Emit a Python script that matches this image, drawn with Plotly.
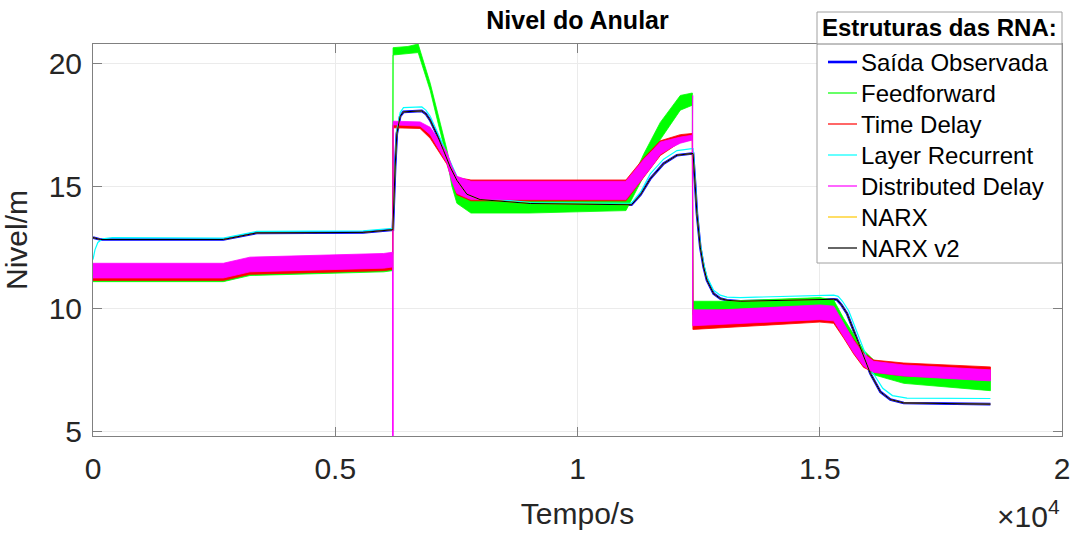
import plotly.graph_objects as go

# ---------------------------------------------------------------- data
# Smooth responses: observed output (also followed by both NARX nets)
t_obs = [0, 150, 2690, 3000, 3380, 5576, 6168, 6189, 6236, 6271, 6340, 6408,
         6787, 6870, 6960, 7100, 7234, 7372, 7510, 7717, 7991, 9024, 11021,
         11114, 11300, 11502, 11777, 12053, 12363, 12385, 12431, 12465, 12534,
         12603, 12672, 12809, 12947, 13086, 13360, 14600, 15288, 15357, 15450,
         15563, 15839, 16045, 16252, 16458, 16733, 18523]
saida_observada = [12.90, 12.82, 12.82, 12.95, 13.09, 13.11, 13.20, 13.22, 15.78,
                   17.14, 17.85, 18.03, 18.07, 17.95, 17.69, 17.10, 16.46, 15.78,
                   15.24, 14.67, 14.45, 14.29, 14.24, 14.24, 14.65, 15.30, 15.92,
                   16.26, 16.33, 16.33, 15.00, 13.88, 12.51, 11.70, 11.16, 10.61,
                   10.41, 10.34, 10.30, 10.37, 10.38, 10.36, 10.15, 9.80, 8.43,
                   7.35, 6.60, 6.29, 6.15, 6.10]
narx = saida_observada
narx_v2 = saida_observada

# Layer Recurrent network output
t_lr = [0, 40, 100, 200, 400, 2690, 3000, 3380, 5576, 6168, 6189, 6236, 6271,
        6340, 6408, 6787, 6870, 6960, 7100, 7234, 7372, 7510, 7717, 7991, 9024,
        11021, 11114, 11300, 11502, 11777, 12053, 12363, 12385, 12431, 12465,
        12534, 12603, 12672, 12809, 12947, 13086, 13360, 14600, 15288, 15380,
        15470, 15600, 15880, 16090, 16300, 16500, 16800, 18523]
layer_recurrent = [12.00, 12.40, 12.70, 12.85, 12.90, 12.88, 13.00, 13.15, 13.17,
                   13.26, 13.28, 15.90, 17.30, 18.00, 18.20, 18.23, 18.10, 17.85,
                   17.25, 16.65, 16.00, 15.40, 14.80, 14.52, 14.33, 14.28, 14.30,
                   14.75, 15.50, 16.10, 16.45, 16.53, 16.53, 15.20, 14.00, 12.65,
                   11.85, 11.30, 10.75, 10.55, 10.47, 10.45, 10.52, 10.55, 10.50,
                   10.30, 9.90, 8.50, 7.40, 6.75, 6.45, 6.35, 6.33]

# Noisy network outputs, given as lower / upper envelopes of the noise
t_ff = [0, 2690, 3240, 6000, 6185, 6193, 6500, 6711, 6960, 7125, 7303, 7407,
        7510, 7800, 9000, 11000, 11365, 11709, 12122, 12370, 12382, 13000,
        15000, 15288, 15494, 15700, 15906, 16113, 16733, 18523]
feedforward_lo = [11.10, 11.10, 11.35, 11.50, 11.55, 20.35, 20.40, 20.45, 18.90,
                  17.55, 16.15, 15.00, 14.30, 13.90, 13.90, 14.00, 15.40, 16.90,
                  18.10, 18.30, 9.75, 9.80, 9.95, 9.85, 9.00, 8.40, 7.80, 7.30,
                  6.95, 6.65]
feedforward_hi = [11.75, 11.75, 12.00, 12.15, 12.20, 20.65, 20.70, 20.80, 19.20,
                  17.85, 16.50, 15.50, 14.90, 14.60, 14.65, 14.70, 16.30, 17.60,
                  18.70, 18.80, 10.30, 10.30, 10.45, 10.35, 9.60, 8.95, 8.30,
                  7.90, 7.50, 7.15]

t_td = [0, 2690, 3240, 6000, 6185, 6193, 6750, 6960, 7303, 7510, 7800, 11000,
        11370, 11709, 12122, 12370, 12382, 13000, 15000, 15288, 15494, 15700,
        15906, 16113, 16733, 18523]
time_delay_lo = [11.15, 11.15, 11.40, 11.55, 11.60, 17.38, 17.35, 16.95, 15.90,
                 14.65, 14.40, 14.40, 15.35, 16.25, 16.80, 16.90, 9.15, 9.20,
                 9.45, 9.40, 8.80, 8.15, 7.60, 7.40, 7.25, 7.10]
time_delay_hi = [11.80, 11.80, 12.05, 12.20, 12.25, 17.50, 17.48, 17.25, 16.30,
                 15.35, 15.25, 15.25, 16.15, 16.85, 17.10, 17.15, 9.90, 9.95,
                 10.10, 10.05, 9.35, 8.75, 8.20, 7.90, 7.78, 7.62]

t_dd = [0, 2690, 3240, 6000, 6185, 6189, 6193, 6750, 6960, 7303, 7407, 7510,
        7800, 11000, 11370, 11570, 11709, 11915, 12122, 12370, 12378, 12382,
        13000, 15000, 15288, 15494, 15700, 15906, 16113, 16733, 18523]
distributed_delay_lo = [11.25, 11.25, 11.50, 11.65, 11.70, 4.00, 17.50, 17.45,
                        17.10, 15.95, 15.20, 14.70, 14.45, 14.45, 15.40, 15.90,
                        16.30, 16.55, 16.75, 16.88, 9.30, 9.30, 9.35, 9.55, 9.50,
                        8.85, 8.20, 7.65, 7.40, 7.25, 7.05]
distributed_delay_hi = [11.85, 11.85, 12.10, 12.25, 12.30, 4.00, 17.65, 17.62,
                        17.40, 16.40, 15.80, 15.40, 15.20, 15.20, 16.10, 16.50,
                        16.80, 16.90, 17.00, 17.08, 18.70, 9.95, 9.95, 10.15,
                        10.10, 9.40, 8.70, 8.15, 7.85, 7.70, 7.50]

# axis ticks
x_tickvals = [0, 5000, 10000, 15000, 20000]
x_ticktext = ["0", "0.5", "1", "1.5", "2"]
y_tickvals = [5, 10, 15, 20]

names = ["Saída Observada", "Feedforward", "Time Delay", "Layer Recurrent",
         "Distributed Delay", "NARX", "NARX v2"]
colors = ["#0000FF", "#00FF00", "#FF0000", "#00FFFF", "#FF00FF", "#FFC800",
          "#000000"]
widths = [2.6, 1.2, 1.2, 1.2, 1.2, 1.2, 1.2]

# ---------------------------------------------------------------- figure
W, H = 1070, 537
L, R, T, B = 93, 1062, 44, 436   # plot area in pixels


def px_x(px):
    return (px - L) / (R - L)


def px_y(py):
    return (B - py) / (B - T)


def band(t, lo, hi, name, color):
    return go.Scatter(x=list(t) + list(t)[::-1], y=list(hi) + list(lo)[::-1],
                      mode="lines", fill="toself", fillcolor=color,
                      line=dict(color=color, width=0.8), name=name,
                      showlegend=False, hoverinfo="skip")


fig = go.Figure()
fig.add_trace(go.Scatter(x=t_obs, y=saida_observada, mode="lines", name=names[0],
                         line=dict(color=colors[0], width=2.6), showlegend=False))
fig.add_trace(band(t_ff, feedforward_lo, feedforward_hi, names[1], colors[1]))
fig.add_trace(band(t_td, time_delay_lo, time_delay_hi, names[2], colors[2]))
fig.add_trace(go.Scatter(x=t_lr, y=layer_recurrent, mode="lines", name=names[3],
                         line=dict(color=colors[3], width=1.2), showlegend=False))
fig.add_trace(band(t_dd, distributed_delay_lo, distributed_delay_hi, names[4],
                   colors[4]))
fig.add_trace(go.Scatter(x=t_obs, y=narx, mode="lines", name=names[5],
                         line=dict(color=colors[5], width=1), showlegend=False))
fig.add_trace(go.Scatter(x=t_obs, y=narx_v2, mode="lines", name=names[6],
                         line=dict(color=colors[6], width=1), showlegend=False))

FONT = "Liberation Sans, Arial, sans-serif"
axis_common = dict(showline=True, linecolor="#808080", linewidth=1, mirror="allticks",
                   ticks="inside", ticklen=9, tickcolor="#808080", showgrid=True,
                   gridcolor="#ebebeb", gridwidth=1, zeroline=False,
                   ticklabeloverflow="allow", automargin=False,
                   tickfont=dict(family=FONT, size=30, color="#262626"))

fig.update_layout(
    width=W, height=H,
    margin=dict(l=L, r=W - R, t=T, b=H - B, autoexpand=False),
    paper_bgcolor="white", plot_bgcolor="white",
    showlegend=False,
    title=dict(text="<b>Nivel do Anular</b>", x=0.5, xref="paper", xanchor="center",
               y=1 - 20 / H, yanchor="middle",
               font=dict(family=FONT, size=25, color="#000000")),
    xaxis=dict(range=[0, 20000], tickvals=x_tickvals, ticktext=x_ticktext,
               ticklabelstandoff=6,
               title=dict(text="Tempo/s", standoff=18,
                          font=dict(family=FONT, size=30, color="#262626")),
               **axis_common),
    yaxis=dict(range=[4.8, 20.8], tickvals=y_tickvals, ticklabelstandoff=4,
               title=dict(text="Nivel/m", standoff=16,
                          font=dict(family=FONT, size=30, color="#262626")),
               **axis_common),
)

# x-axis exponent
fig.add_annotation(text="×10<sup>4</sup>", xref="paper", yref="paper",
                   x=px_x(1062), y=px_y(514), xanchor="right", yanchor="middle",
                   showarrow=False, font=dict(family=FONT, size=30, color="#262626"))

# legend box drawn on top of the data
LX0, LX1, LY0, LY1 = 817, 1062, 12, 263
shapes = [
    dict(type="rect", xref="paper", yref="paper", x0=px_x(LX0), x1=px_x(LX1),
         y0=px_y(LY1), y1=px_y(LY0), fillcolor="white",
         line=dict(color="#a0a0a0", width=1), layer="above"),
    dict(type="line", xref="paper", yref="paper", x0=px_x(LX0), x1=px_x(LX1),
         y0=px_y(44), y1=px_y(44), line=dict(color="#808080", width=1),
         layer="above"),
]
fig.add_annotation(text="<b>Estruturas das RNA:</b>", xref="paper", yref="paper",
                   x=px_x((LX0 + LX1) / 2), y=px_y(28), xanchor="center",
                   yanchor="middle", showarrow=False,
                   font=dict(family=FONT, size=24, color="#000000"))
for i, (nm, col, wd) in enumerate(zip(names, colors, widths)):
    yc = 62 + 31 * i
    shapes.append(dict(type="line", xref="paper", yref="paper", x0=px_x(828),
                       x1=px_x(857), y0=px_y(yc), y1=px_y(yc),
                       line=dict(color=col, width=wd), layer="above"))
    fig.add_annotation(text=nm, xref="paper", yref="paper", x=px_x(859),
                       y=px_y(yc), xanchor="left", yanchor="middle",
                       showarrow=False,
                       font=dict(family=FONT, size=24, color="#000000"))
fig.update_layout(shapes=shapes)

fig.write_html("out.html")
